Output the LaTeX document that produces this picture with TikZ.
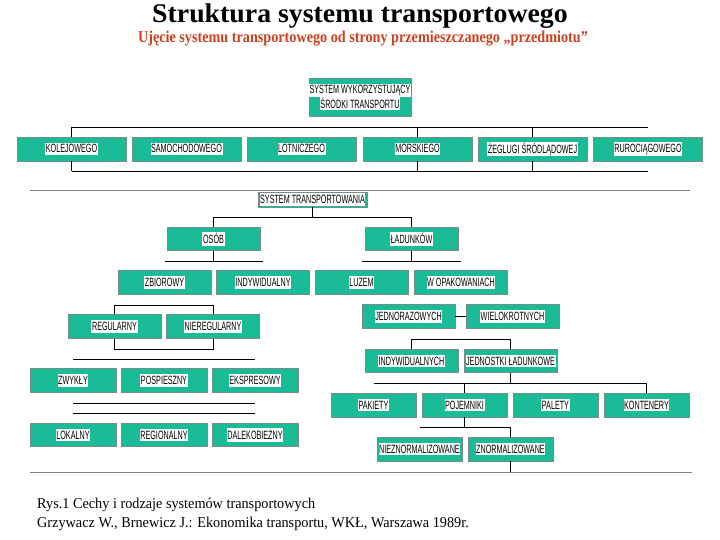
\documentclass[tikz,border=0pt]{standalone}
\usepackage{fontspec}
\usepackage{graphicx}
\setmainfont{Liberation Serif}
\newfontfamily\lblfont{Liberation Sans}
\definecolor{boxgreen}{RGB}{26,188,152}
\definecolor{boxedge}{RGB}{120,140,135}
\definecolor{subred}{RGB}{205,65,30}
\definecolor{sepgray}{RGB}{128,128,128}
\newcommand\lbl[1]{{\setlength\fboxsep{0.6pt}\colorbox{white}{\rule[-1.5pt]{0pt}{11pt}\scalebox{0.6}[1]{#1}}}}
\tikzset{
  gbox/.style={draw=boxedge, line width=0.6pt, fill=boxgreen, inner sep=0pt,
    font=\lblfont\fontsize{12}{12}\selectfont, align=center},
  wA/.style={minimum width=109pt, minimum height=24pt},
  wB/.style={minimum width=93pt, minimum height=23.5pt},
  wC/.style={minimum width=86pt, minimum height=23.5pt},
  wD/.style={minimum width=85pt, minimum height=24pt},
  conn/.style={draw=black, line width=0.8pt},
  sep/.style={draw=sepgray, line width=1pt},
  captxt/.style={font=\fontsize{15}{15}\selectfont, xscale=0.95, anchor=west, inner sep=0pt}
}
\begin{document}
\begin{tikzpicture}[x=1pt,y=-1pt]
\useasboundingbox (0,0) rectangle (720,540);
% titles
\node[font=\bfseries\fontsize{27}{27}\selectfont, xscale=1.03, inner sep=0pt, anchor=base] (title) at (360,23) {Struktura systemu transportowego};
\node[font=\bfseries\fontsize{16.5}{16.5}\selectfont, text=subred, xscale=0.86, inner sep=0pt] (sub) at (363,39) {Ujęcie systemu transportowego od strony przemieszczanego „przedmiotu”};

% separators
\coordinate (s1a) at (30,191); \coordinate (s1b) at (690,191);
\coordinate (s2a) at (30,472); \coordinate (s2b) at (692,472);
\draw[sep] (s1a) -- (s1b);
\draw[sep] (s2a) -- (s2b);

% ---------- upper part ----------
\node[gbox, minimum width=100pt, minimum height=38pt] (top) at (360,97) {\lbl{SYSTEM WYKORZYSTUJĄCY}\\[-1pt]\lbl{ŚRODKI TRANSPORTU}};

\coordinate (r1top) at (0,127);
\coordinate (r1bot) at (0,171);
\node[gbox,wA] (kol) at (71.5,149) {\lbl{KOLEJOWEGO}};
\node[gbox,wA] (sam) at (186.5,149) {\lbl{SAMOCHODOWEGO}};
\node[gbox,wA] (lot) at (301.5,149) {\lbl{LOTNICZEGO}};
\node[gbox,wA] (mor) at (417.5,149) {\lbl{MORSKIEGO}};
\node[gbox,wA] (zeg) at (532.5,149) {\lbl{ŻEGLUGI ŚRÓDLĄDOWEJ}};
\node[gbox,wA] (rur) at (648,149) {\lbl{RUROCIĄGOWEGO}};

% ---------- lower part ----------
\node[gbox, minimum width=109pt, minimum height=15pt] (st) at (312.5,199.5) {\lbl{SYSTEM TRANSPORTOWANIA}};
\node[gbox,wB] (os) at (213.5,239) {\lbl{OSÓB}};
\node[gbox,wB] (lad) at (411.5,239) {\lbl{ŁADUNKÓW}};

\node[gbox,wB] (zb) at (164.5,282.5) {\lbl{ZBIOROWY}};
\node[gbox,wB] (ind) at (263,282.5) {\lbl{INDYWIDUALNY}};
\node[gbox,wB] (luz) at (361.5,282.5) {\lbl{LUZEM}};
\node[gbox,wB] (wop) at (461,282.5) {\lbl{W OPAKOWANIACH}};

\node[gbox,wB] (reg) at (114.5,326.5) {\lbl{REGULARNY}};
\node[gbox,wB] (nreg) at (213,326.5) {\lbl{NIEREGULARNY}};

\node[gbox,wC] (zw) at (73,380.5) {\lbl{ZWYKŁY}};
\node[gbox,wC] (pos) at (164,380.5) {\lbl{POSPIESZNY}};
\node[gbox,wC] (eks) at (255,380.5) {\lbl{EKSPRESOWY}};

\node[gbox,wC] (lok) at (73,435) {\lbl{LOKALNY}};
\node[gbox,wC] (rgn) at (164,435) {\lbl{REGIONALNY}};
\node[gbox,wC] (dal) at (255,435) {\lbl{DALEKOBIEŻNY}};

\node[gbox,wB] (jed) at (408.5,316.5) {\lbl{JEDNORAZOWYCH}};
\node[gbox,wB] (wie) at (512.5,316.5) {\lbl{WIELOKROTNYCH}};

\node[gbox,wB] (indy) at (411.5,361) {\lbl{INDYWIDUALNYCH}};
\node[gbox,wB] (jl) at (510.5,361) {\lbl{JEDNOSTKI ŁADUNKOWE}};

\node[gbox,wD] (pak) at (373.5,405) {\lbl{PAKIETY}};
\node[gbox,wD] (poj) at (464.5,405) {\lbl{POJEMNIKI}};
\node[gbox,wD] (pal) at (555.5,405) {\lbl{PALETY}};
\node[gbox,wD] (kon) at (646.5,405) {\lbl{KONTENERY}};

\node[gbox,wD] (nzn) at (419.5,449) {\lbl{NIEZNORMALIZOWANE}};
\node[gbox,wD] (zn) at (510.5,449) {\lbl{ZNORMALIZOWANE}};

% ---------- connectors ----------
\coordinate (h217) at (0,217);
\coordinate (h261) at (0,261);
\coordinate (h305) at (0,305);
\coordinate (h349) at (0,349);
\coordinate (h359) at (0,359);
\coordinate (h403) at (0,403);
\coordinate (h413) at (0,413);
\coordinate (h339) at (0,339);
\coordinate (h383) at (0,383);
\coordinate (h427) at (0,427);

% row 1 bracket
\draw[conn] (kol |- r1top) -- (rur |- r1top);
\draw[conn] (kol |- r1bot) -- (rur |- r1bot);
\draw[conn] (kol |- r1top) -- (kol.north);
\draw[conn] (kol.south) -- (kol |- r1bot);
\draw[conn] (mor.north) -- (mor |- r1top);
\draw[conn] (zeg.north) -- (zeg |- r1top);
\draw[conn] (mor.south) -- (mor |- r1bot);
\draw[conn] (zeg.south) -- (zeg |- r1bot);

% system transportowania
\draw[conn] (st.south) -- (st |- h217);
\draw[conn] (os |- h217) -- (lad |- h217);
\draw[conn] (os |- h217) -- (os.north);
\draw[conn] (lad |- h217) -- (lad.north);
\draw[conn] (os.south) -- (os |- h261);
\draw[conn] (zb |- h261) -- (ind |- h261);
\draw[conn] (lad.south) -- (lad |- h261);
\draw[conn] (luz |- h261) -- (wop |- h261);

% regularny bracket
\draw[conn] (reg.north) -- (reg |- h305) -- (nreg |- h305) -- (nreg.north);
\draw[conn] (reg.south) -- (reg |- h349) -- (nreg |- h349) -- (nreg.south);

% plain lines
\draw[conn] (zw |- h359) -- (eks |- h359);
\draw[conn] (zw |- h403) -- (eks |- h403);
\draw[conn] (zw |- h413) -- (eks |- h413);

% ladunki
\draw[conn] (jed.east) -- (wie.west);
\draw[conn] (indy.north) -- (indy |- h339) -- (jl |- h339) -- (jl.north);
\draw[conn] (jl.south) -- (jl |- h383);
\draw[conn] (pak |- h383) -- (kon |- h383);
\draw[conn] (poj |- h383) -- (poj.north);
\draw[conn] (kon |- h383) -- (kon.north);
\draw[conn] (poj.south) -- (poj |- h427);
\draw[conn] (nzn |- h427) -- (zn |- h427);
\draw[conn] (zn |- h427) -- (zn.north);
\draw[conn] (zn.south) -- (zn |- s2a);

% captions
\node[captxt] (cap1) at (37,505) {Rys.1 Cechy i rodzaje systemów transportowych};
\node[captxt] (cap2) at (37,524) {Grzywacz W., Brnewicz J.: Ekonomika transportu, WKŁ, Warszawa 1989r.};
\end{tikzpicture}
\end{document}
